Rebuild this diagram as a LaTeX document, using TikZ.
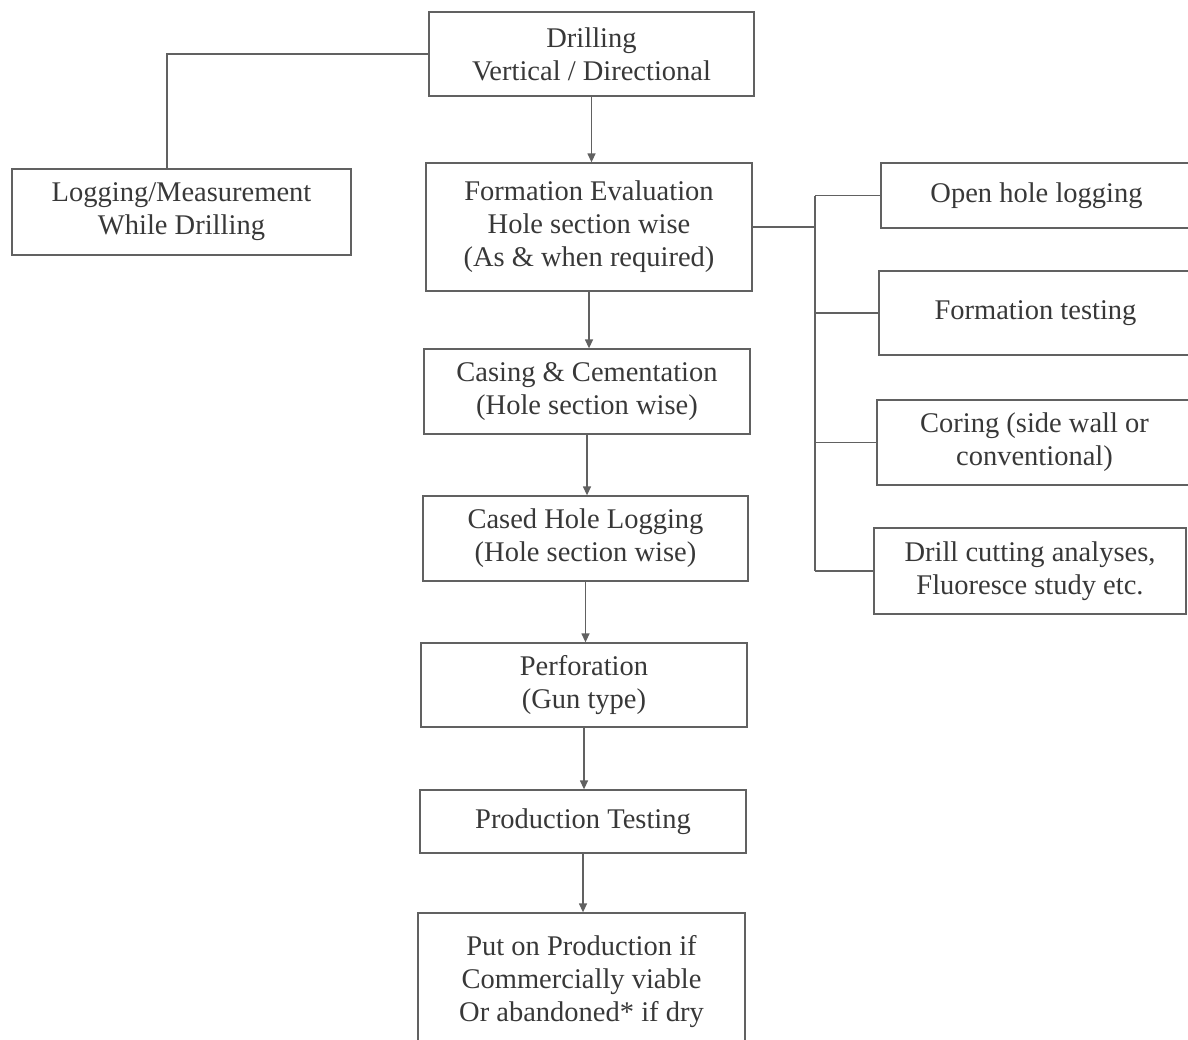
\documentclass[tikz,border=0pt]{standalone}
\usepackage{fontspec}
\setmainfont{Liberation Serif}
\usetikzlibrary{arrows.meta}

\begin{document}
\begin{tikzpicture}[x=1pt, y=-1pt,
      every node/.style={font=\fontsize{28.5}{33}\selectfont, text=black!78},
      box/.style={rectangle, draw=black!62, line width=1.3pt, align=center, inner sep=0pt},
      line/.style={draw=black!62, line width=1.3pt},
      arr/.style={line, -{Triangle[length=9pt, width=8pt]}}
      ]
      \useasboundingbox (0,0) rectangle (1188,1039);
      \node[box, minimum width=325, minimum height=84] (drill) at (591.5,54) {Drilling\\Vertical / Directional};
      \node[box, minimum width=339, minimum height=86] (lwd) at (181.5,212) {Logging/Measurement\\While Drilling};
      \node[box, minimum width=326, minimum height=128] (fe) at (589,227) {Formation Evaluation\\Hole section wise\\(As \& when required)};
      \node[box, minimum width=326, minimum height=85] (casing) at (587,391.5) {Casing \& Cementation\\(Hole section wise)};
      \node[box, minimum width=325, minimum height=85] (cased) at (585.5,538.5) {Cased Hole Logging\\(Hole section wise)};
      \node[box, minimum width=326, minimum height=84] (perf) at (584,685) {Perforation\\(Gun type)};
      \node[box, minimum width=326, minimum height=63] (prodtest) at (583,821.5) {Production Testing};
      \node[box, minimum width=327, minimum height=137] (put) at (581.5,981.5) {Put on Production if\\Commercially viable\\Or abandoned* if dry};
      \node[box, minimum width=311, minimum height=65] (open) at (1036.5,195.5) {Open hole logging};
      \node[box, minimum width=313, minimum height=84] (ftest) at (1035.5,313) {Formation testing};
      \node[box, minimum width=315, minimum height=85] (coring) at (1034.5,442.5) {Coring (side wall or\\conventional)};
      \node[box, minimum width=312, minimum height=86] (cutting) at (1030,571) {Drill cutting analyses,\\Fluoresce study etc.};
      \coordinate (bus) at (815,0);
      \draw[line] (drill.west) -| ([xshift=-14.5pt]lwd.north);
      \foreach \a/\b in {drill/fe, fe/casing, casing/cased, cased/perf, perf/prodtest, prodtest/put}
        \draw[arr] (\a.south) -- (\a.south |- \b.north);
      \draw[line] (fe.east) -- (fe.east -| bus);
      \draw[line] (open.west -| bus) -- (cutting.west -| bus);
      \foreach \n in {open, ftest, coring, cutting}
        \draw[line] (\n.west -| bus) -- (\n.west);
    \end{tikzpicture}
\end{document}
